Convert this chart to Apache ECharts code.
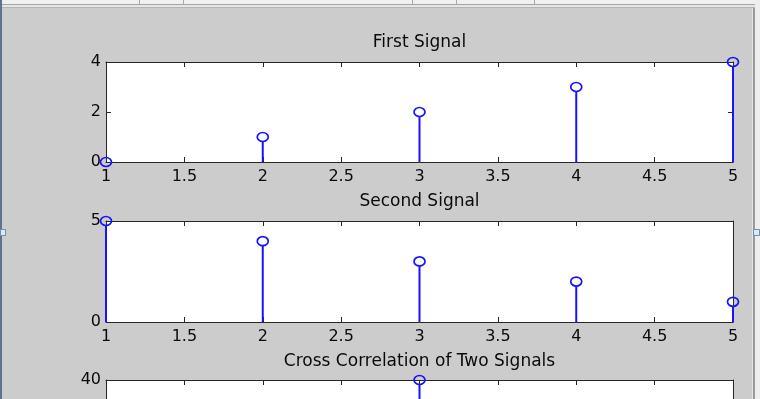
<!DOCTYPE html>
<html>
<head>
<meta charset="utf-8">
<script src="https://cdn.jsdelivr.net/npm/echarts@6/dist/echarts.min.js"></script>
<style>
  html, body { margin: 0; padding: 0; background: #cccccc; overflow: hidden; width: 760px; height: 399px; }
  #chart { width: 760px; height: 520px; }
</style>
</head>
<body>
<div id="chart"></div>
<script>
// ---- data ----
const titles = ['First Signal', 'Second Signal', 'Cross Correlation of Two Signals'];
const signalIndex = [1, 2, 3, 4, 5];
const firstSignal = [0, 1, 2, 3, 4];
const secondSignal = [5, 4, 3, 2, 1];
const corrIndex = [1, 2, 3, 4, 5, 6, 7, 8, 9];
const crossCorr = [0, 5, 14, 26, 40, 30, 20, 11, 4];
// axis ranges / tick steps
const xRanges = [[1, 5, 0.5], [1, 5, 0.5], [1, 9, 1]];
const yRanges = [[0, 4, 2], [0, 5, 5], [0, 40, 20]];

const FONT = 'DejaVu Sans';
const BLUE = '#1414ff';
const AXIS = '#262626';
const TEXT = '#0a0a0a';

const gridBoxes = [
  { left: 106, top: 62, width: 627, height: 100 },
  { left: 106, top: 221, width: 627, height: 101 },
  { left: 106, top: 380, width: 627, height: 100 }
];
const titleTops = [34, 193, 353];

const chart = echarts.init(document.getElementById('chart'), null, { renderer: 'canvas' });

function pairs(xs, ys) { return xs.map((x, i) => [x, ys[i]]); }

function stemRender(params, api) {
  const x = api.value(0), y = api.value(1);
  const p = api.coord([x, y]);
  const b = api.coord([x, 0]);
  const rx = 5.5, ry = 4.5;
  const children = [];
  if (b[1] - p[1] > ry) {
    children.push({
      type: 'line',
      shape: { x1: p[0], y1: b[1], x2: p[0], y2: p[1] + ry },
      style: { stroke: BLUE, lineWidth: 2 }
    });
  }
  children.push({
    type: 'ellipse',
    shape: { cx: p[0], cy: p[1], rx: rx, ry: ry },
    style: { fill: 'none', stroke: BLUE, lineWidth: 1.7 }
  });
  return { type: 'group', children: children };
}

const grids = gridBoxes.map(g => Object.assign({ show: true, backgroundColor: '#ffffff', borderWidth: 0, containLabel: false }, g));

const xAxes = [];
const yAxes = [];
for (let i = 0; i < 3; i++) {
  const [xmin, xmax, xint] = xRanges[i];
  const [ymin, ymax, yint] = yRanges[i];
  ['bottom', 'top'].forEach(pos => {
    xAxes.push({
      type: 'value', gridIndex: i, position: pos, min: xmin, max: xmax, interval: xint,
      axisLine: { show: true, onZero: false, lineStyle: { color: AXIS, width: 1 } },
      axisTick: { show: true, inside: true, length: 5, lineStyle: { color: AXIS } },
      axisLabel: { show: pos === 'bottom', margin: 7, color: TEXT, fontFamily: FONT, fontSize: 16 },
      splitLine: { show: false }
    });
  });
  ['left', 'right'].forEach(pos => {
    yAxes.push({
      type: 'value', gridIndex: i, position: pos, min: ymin, max: ymax, interval: yint,
      axisLine: { show: true, onZero: false, lineStyle: { color: AXIS, width: 1 } },
      axisTick: { show: true, inside: true, length: 5, lineStyle: { color: AXIS } },
      axisLabel: { show: pos === 'left', margin: 5, color: TEXT, fontFamily: FONT, fontSize: 16 },
      splitLine: { show: false }
    });
  });
}

const seriesData = [pairs(signalIndex, firstSignal), pairs(signalIndex, secondSignal), pairs(corrIndex, crossCorr)];
const series = seriesData.map((d, i) => ({
  type: 'custom', xAxisIndex: i * 2, yAxisIndex: i * 2, data: d,
  renderItem: stemRender, clip: false, silent: true, z: 5
}));

const graphics = [
  // window chrome
  { type: 'rect', shape: { x: 0, y: 0, width: 760, height: 4 }, style: { fill: '#f0f0f0' }, z: -10 },
  { type: 'rect', shape: { x: 0, y: 4, width: 760, height: 1 }, style: { fill: '#a4a4a4' }, z: -10 },
  { type: 'rect', shape: { x: 0, y: 5, width: 760, height: 2 }, style: { fill: '#e6e6e6' }, z: -10 },
  { type: 'rect', shape: { x: 0, y: 7, width: 760, height: 1 }, style: { fill: '#b4b4b4' }, z: -10 },
  { type: 'rect', shape: { x: 0, y: 0, width: 2, height: 520 }, style: { fill: '#5f7191' }, z: -9 },
  { type: 'rect', shape: { x: 752, y: 8, width: 1, height: 512 }, style: { fill: '#e4e4e4' }, z: -9 },
  { type: 'rect', shape: { x: 753, y: 8, width: 2, height: 512 }, style: { fill: '#9a9a9a' }, z: -9 },
  { type: 'rect', shape: { x: 755, y: 0, width: 5, height: 520 }, style: { fill: '#eeeeee' }, z: -9 },
  { type: 'rect', shape: { x: 0.5, y: 229.5, width: 5, height: 6 }, style: { fill: '#dfe9f5', stroke: '#6d8db3', lineWidth: 1 }, z: -8 },
  { type: 'rect', shape: { x: 753.5, y: 229.5, width: 6, height: 6 }, style: { fill: '#dfe9f5', stroke: '#6d8db3', lineWidth: 1 }, z: -8 }
];
[139, 183, 412, 456, 534].forEach(x => {
  graphics.push({ type: 'rect', shape: { x: x, y: 0, width: 1, height: 4 }, style: { fill: '#a8a8a8' }, z: -9 });
});
titles.forEach((t, i) => {
  const g = gridBoxes[i];
  graphics.push({
    type: 'text', x: g.left + g.width / 2, y: titleTops[i],
    style: { text: t, fill: TEXT, font: '17px "' + FONT + '"', textAlign: 'center', textVerticalAlign: 'top' },
    z: 10
  });
});

chart.setOption({
  backgroundColor: '#cccccc',
  animation: false,
  grid: grids,
  xAxis: xAxes,
  yAxis: yAxes,
  series: series,
  graphic: graphics
});
</script>
</body>
</html>
